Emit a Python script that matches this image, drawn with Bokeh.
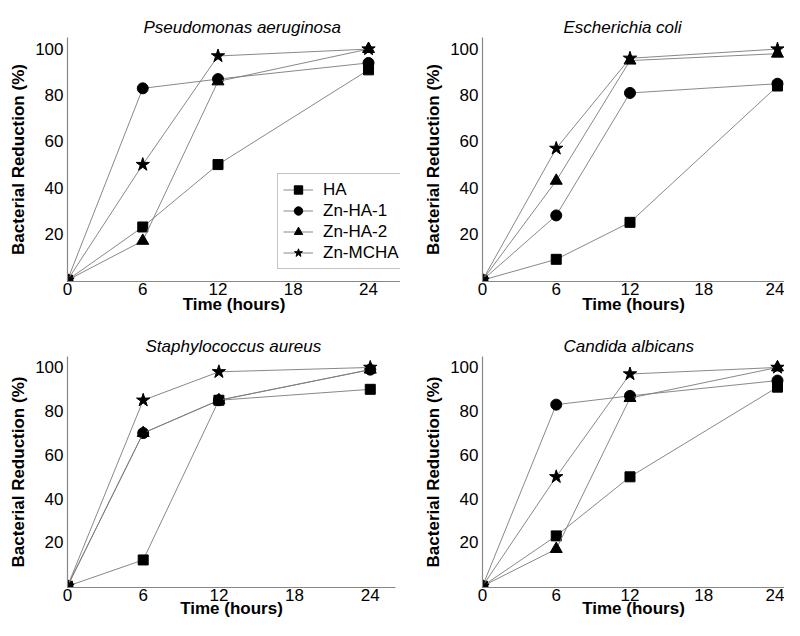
from bokeh.plotting import figure
from bokeh.layouts import column, row
from bokeh.models import FixedTicker, Legend, LegendItem, Range1d
from bokeh.embed import file_html
from bokeh.resources import INLINE

# ---- data ----
time_h = [0, 6, 12, 24]
series_names = ["HA", "Zn-HA-1", "Zn-HA-2", "Zn-MCHA"]
x_ticks = [0, 6, 12, 18, 24]
y_ticks = [20, 40, 60, 80, 100]

pa_ha = [0, 23, 50, 91]
pa_zn1 = [0, 83, 87, 94]
pa_zn2 = [0, 17, 86, 100]
pa_mcha = [0, 50, 97, 100]

ec_ha = [0, 9, 25, 84]
ec_zn1 = [0, 28, 81, 85]
ec_zn2 = [0, 43, 95, 98]
ec_mcha = [0, 57, 96, 100]

sa_ha = [0, 12, 85, 90]
sa_zn1 = [0, 70, 85, 99]
sa_zn2 = [0, 70, 85, 99]
sa_mcha = [0, 85, 98, 100]

ca_ha = [0, 23, 50, 91]
ca_zn1 = [0, 83, 87, 94]
ca_zn2 = [0, 17, 86, 100]
ca_mcha = [0, 50, 97, 100]

titles = ["Pseudomonas aeruginosa", "Escherichia coli",
          "Staphylococcus aureus", "Candida albicans"]

FONT = "Liberation Sans"
markers = ["square", "circle", "triangle", "star"]
msizes = [10, 11, 12, 14]
LINE_C = "#7a7a7a"
AXIS_C = "#888888"


def make_panel(title, data, w, h, lb, rb, tb, bb, x_end, y_range, title_offset,
               xlabel_standoff, legend_loc=None):
    p = figure(width=w, height=h, output_backend="svg", toolbar_location=None,
               x_range=Range1d(0, x_end), y_range=Range1d(*y_range),
               min_border_left=lb, min_border_right=rb,
               min_border_top=tb, min_border_bottom=bb)
    p.title.text = title
    p.title.text_font = FONT
    p.title.text_font_style = "italic"
    p.title.text_font_size = "17px"
    p.title.text_color = "black"
    p.title.align = "left"
    p.title.offset = title_offset
    p.title.standoff = 2
    p.outline_line_color = None
    p.xgrid.visible = False
    p.ygrid.visible = False
    for ax, ticks in ((p.xaxis, x_ticks), (p.yaxis, y_ticks)):
        ax.ticker = FixedTicker(ticks=ticks)
        ax.axis_line_color = AXIS_C
        ax.axis_line_width = 1.2
        ax.major_tick_line_color = None
        ax.minor_tick_line_color = None
        ax.major_tick_out = 0
        ax.major_tick_in = 0
        ax.major_label_text_font = FONT
        ax.major_label_text_font_size = "17px"
        ax.major_label_text_color = "black"
        ax.axis_label_text_font = FONT
        ax.axis_label_text_font_style = "bold"
        ax.axis_label_text_font_size = "17px"
        ax.axis_label_text_color = "black"
    p.xaxis.axis_label = "Time (hours)"
    p.yaxis.axis_label = "Bacterial Reduction (%)"
    p.xaxis.major_label_standoff = 1
    p.xaxis.axis_label_standoff = xlabel_standoff
    p.yaxis.major_label_standoff = 4
    p.yaxis.axis_label_standoff = 4

    items = []
    for name, ys, mk, ms in zip(series_names, data, markers, msizes):
        lr = p.line(time_h, ys, line_color=LINE_C, line_width=0.9)
        sr = p.scatter(time_h, ys, marker=mk, size=ms, fill_color="black",
                       line_color="black")
        items.append(LegendItem(label=name, renderers=[lr, sr]))
    if legend_loc is not None:
        lg = Legend(items=items, location=legend_loc)
        lg.border_line_color = AXIS_C
        lg.border_line_width = 1
        lg.padding = 5
        lg.margin = 0
        lg.spacing = 0
        lg.glyph_width = 30
        lg.glyph_height = 21
        lg.label_height = 21
        lg.label_standoff = 10
        lg.label_text_font = FONT
        lg.label_text_font_size = "17px"
        lg.label_text_color = "black"
        lg.background_fill_alpha = 1
        p.add_layout(lg)
    return p


p1 = make_panel(titles[0], [pa_ha, pa_zn1, pa_zn2, pa_mcha], 400, 316, 67, 0, 37, 30,
                26.55, (-0.6, 105), 76, -3, legend_loc=(210, 12))
p2 = make_panel(titles[1], [ec_ha, ec_zn1, ec_zn2, ec_mcha], 384, 316, 82, 0, 37, 30,
                24.57, (-0.6, 105), 81, -3)
p3 = make_panel(titles[2], [sa_ha, sa_zn1, sa_zn2, sa_mcha], 400, 304, 67, 5, 40, 30,
                26.0, (-0.6, 105), 78, -5)
p4 = make_panel(titles[3], [ca_ha, ca_zn1, ca_zn2, ca_mcha], 384, 304, 82, 0, 40, 30,
                24.57, (-0.6, 105), 81, -5)

layout = column(row(p1, p2), row(p3, p4))
open("out.html", "w").write(file_html(layout, INLINE))
